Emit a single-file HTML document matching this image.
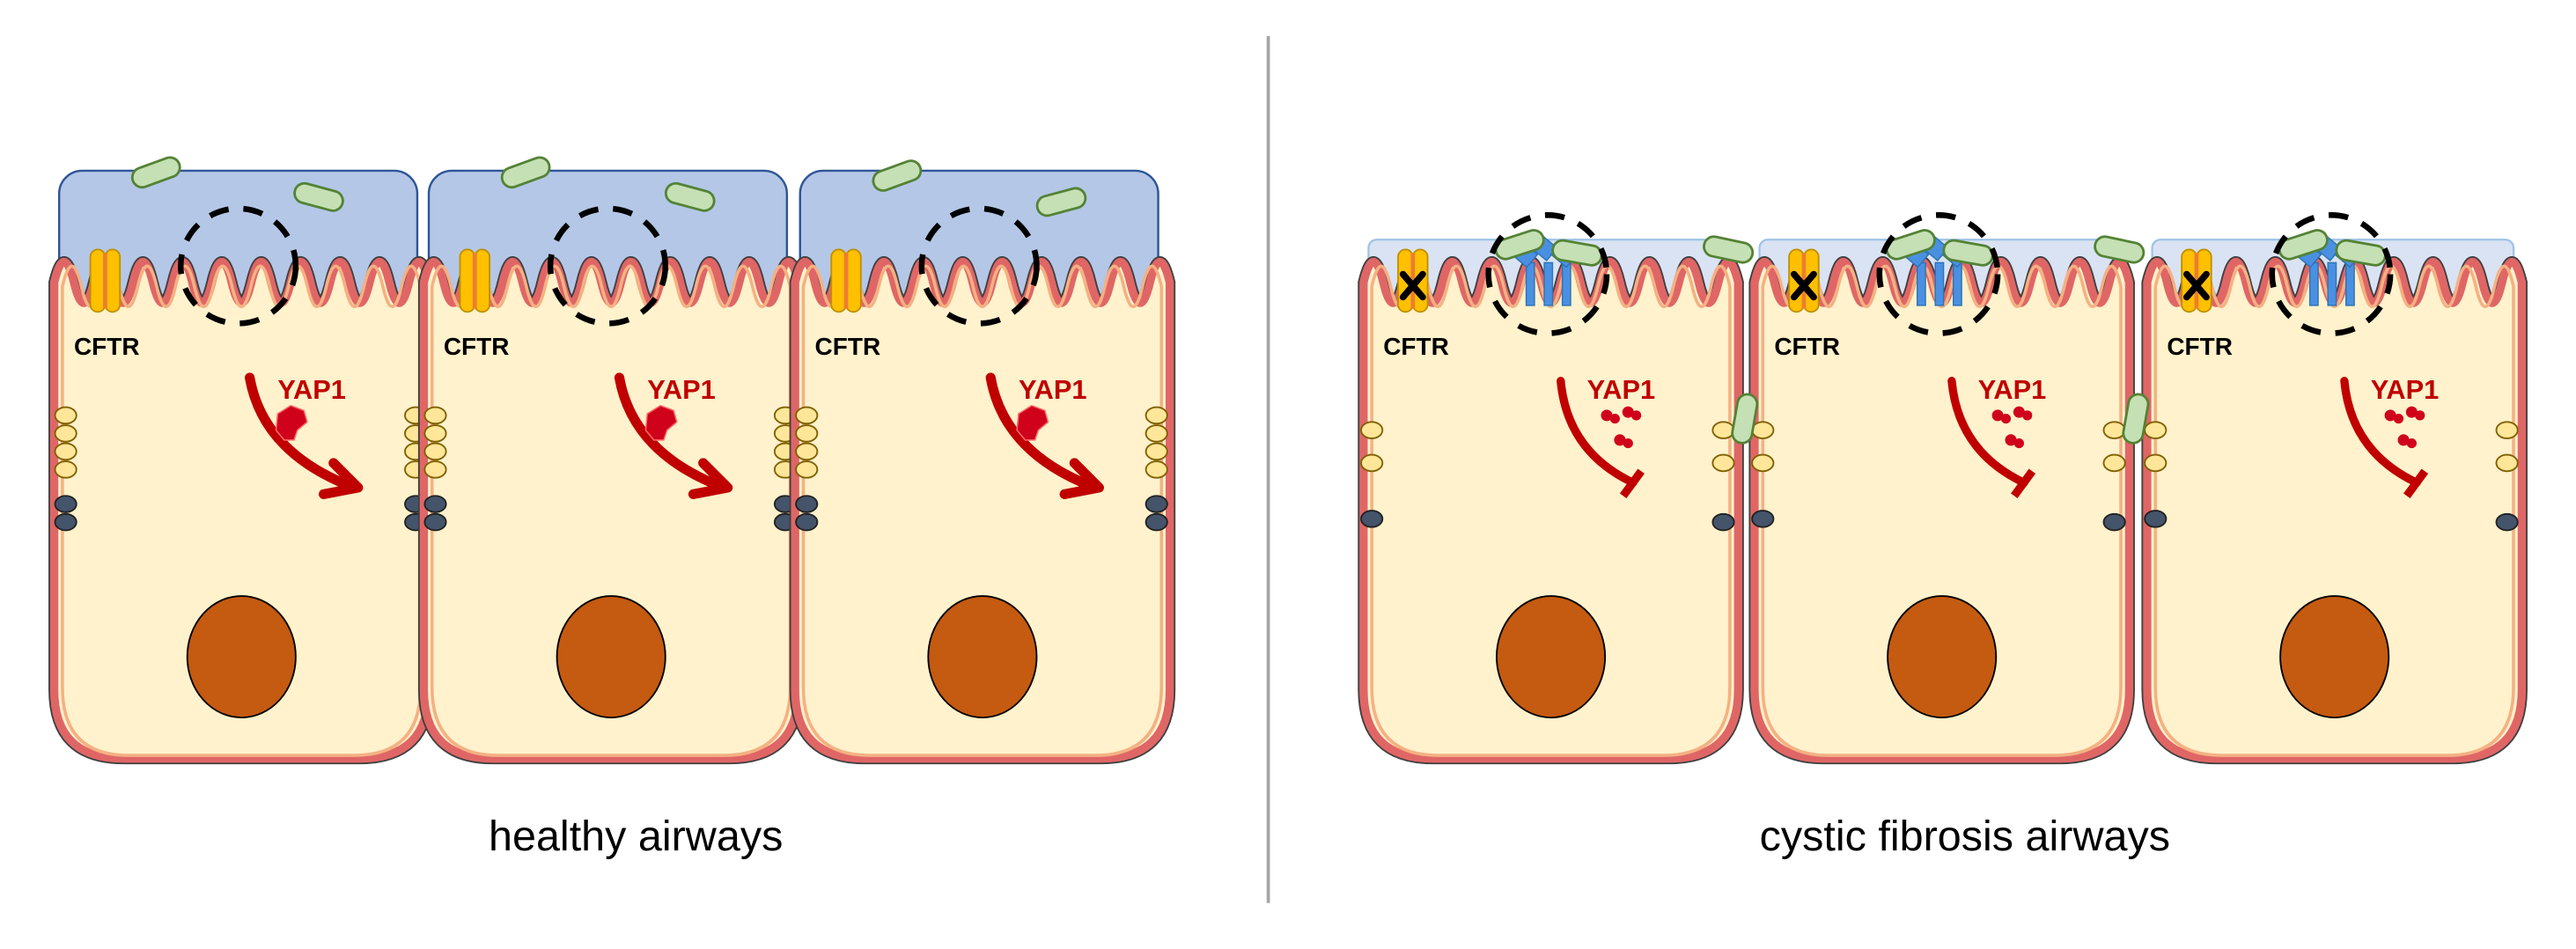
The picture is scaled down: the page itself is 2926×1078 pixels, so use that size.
<!DOCTYPE html>
<html><head><meta charset="utf-8"><style>
html,body{margin:0;padding:0;background:#fff;width:2926px;height:1078px;overflow:hidden}
svg{display:block}
text{font-family:"Liberation Sans",sans-serif}
</style></head><body>
<svg width="2926" height="1078" viewBox="0 0 1568 578" preserveAspectRatio="none" xmlns="http://www.w3.org/2000/svg">
<defs>
<path id="body" d="M0,172 Q6,147 12,172 T24,172 T36,172 T48,172 T60,172 T72,172 T84,172 T96,172 T108,172 T120,172 T132,172 T144,172 T156,172 T168,172 T180,172 T192,172 T204,172 T216,172 T228,172 L228,420 Q228,462 186,462 L42,462 Q0,462 0,420 Z"/>
<g id="cell">
<use href="#body" fill="#fff2cc" stroke="#404040" stroke-width="7"/>
<use href="#body" fill="#fff2cc" stroke="#e06666" stroke-width="5"/>
<use href="#body" fill="none" stroke="#f4b183" stroke-width="2" transform="translate(5,5) scale(0.956,0.985)"/>
<ellipse cx="114" cy="400" rx="33" ry="37" fill="#c55a11" stroke="#000" stroke-width="1"/>
<text x="12" y="216" font-size="15" font-weight="bold" fill="#000">CFTR</text>
<text x="136" y="243" font-size="16.5" font-weight="bold" fill="#c00000">YAP1</text>
</g>
<g id="cftr">
<rect x="-9" y="152" width="9" height="38" rx="4.5" fill="#ffc000" stroke="#bf9000" stroke-width="1"/>
<rect x="0" y="152" width="9" height="38" rx="4.5" fill="#ffc000" stroke="#bf9000" stroke-width="1"/>
<line x1="0" y1="154" x2="0" y2="188" stroke="#ed7d31" stroke-width="2.5"/>
</g>
<ellipse id="yj" rx="6.5" ry="5" fill="#ffe699" stroke="#7f6000" stroke-width="1"/>
<ellipse id="dj" rx="6.5" ry="5" fill="#44546a" stroke="#222" stroke-width="1"/>
<rect id="bac" x="-15" y="-6" width="30" height="12" rx="6" fill="#c5e0b4" stroke="#548235" stroke-width="1.5"/>
<g id="hcell">
<rect x="3" y="104" width="218" height="80" rx="14" fill="#b4c7e7" stroke="#2f5597" stroke-width="1.3"/>
<use href="#cell"/>
<use href="#cftr" x="31"/>
<circle cx="112" cy="162" r="35" fill="none" stroke="#000" stroke-width="3.5" stroke-dasharray="12 9"/>
<path d="M119,230 Q127,275 180,296" fill="none" stroke="#c00000" stroke-width="6" stroke-linecap="round"/>
<path d="M170,282 L185,297 L164,301" fill="none" stroke="#c00000" stroke-width="6" stroke-linecap="round" stroke-linejoin="round"/>
<path d="M136,252 L144,247 L152,250 L154,257 L148,262 L146,268 L140,268 L135,262 Z" fill="#d0021b" stroke="#ff6b6b" stroke-width="0.8"/>
<use href="#yj" x="7" y="253"/><use href="#yj" x="7" y="264"/><use href="#yj" x="7" y="275"/><use href="#yj" x="7" y="286"/>
<use href="#dj" x="7" y="307"/><use href="#dj" x="7" y="318"/>
<use href="#yj" x="220" y="253"/><use href="#yj" x="220" y="264"/><use href="#yj" x="220" y="275"/><use href="#yj" x="220" y="286"/>
<use href="#dj" x="220" y="307"/><use href="#dj" x="220" y="318"/>
</g>
<g id="ccell">
<rect x="3" y="146" width="220" height="40" rx="5" fill="#dae3f3" stroke="#9dc3e6" stroke-width="1.2"/>
<use href="#cell"/>
<use href="#cftr" x="30"/>
<path d="M24,167 L36,181 M36,167 L24,181" stroke="#000" stroke-width="4" stroke-linecap="round"/>
<g fill="#4a90e2" stroke="#2e75b6" stroke-width="0.8">
<rect x="99" y="160" width="5" height="26"/><rect x="110" y="160" width="5" height="26"/><rect x="121" y="160" width="5" height="26"/>
<rect x="92" y="150" width="12" height="10" transform="rotate(40 98 155)"/>
<rect x="104" y="146" width="12" height="10" transform="rotate(40 110 151)"/>
<rect x="116" y="150" width="12" height="10" transform="rotate(40 122 155)"/>
</g>
<use href="#bac" transform="translate(95,149) rotate(-18)"/>
<use href="#bac" transform="translate(130,154) rotate(10)"/>
<circle cx="112" cy="167" r="36" fill="none" stroke="#000" stroke-width="3.5" stroke-dasharray="12 9"/>
<path d="M120,232 Q124,275 164,294" fill="none" stroke="#c00000" stroke-width="5" stroke-linecap="round"/>
<path d="M158,302 L169,287" stroke="#c00000" stroke-width="5"/>
<g fill="#d0021b"><circle cx="148" cy="253" r="3.5"/><circle cx="153" cy="255" r="3"/><circle cx="161" cy="251" r="3.5"/><circle cx="166" cy="253" r="3"/><circle cx="156" cy="268" r="3.5"/><circle cx="161" cy="270" r="3"/></g>
<use href="#yj" x="5" y="262"/><use href="#yj" x="5" y="282"/><use href="#dj" x="5" y="316"/>
<use href="#yj" x="219" y="262"/><use href="#yj" x="219" y="282"/><use href="#dj" x="219" y="318"/>
</g>
</defs>
<use href="#hcell" x="33"/>
<use href="#hcell" x="258"/>
<use href="#hcell" x="484"/>
<use href="#bac" transform="translate(95,105) rotate(-20)"/>
<use href="#bac" transform="translate(194,120) rotate(15)"/>
<use href="#bac" transform="translate(320,105) rotate(-20)"/>
<use href="#bac" transform="translate(420,120) rotate(15)"/>
<use href="#bac" transform="translate(546,107) rotate(-20)"/>
<use href="#bac" transform="translate(646,123) rotate(-15)"/>
<line x1="772" y1="22" x2="772" y2="550" stroke="#a6a6a6" stroke-width="2"/>
<use href="#ccell" x="830"/>
<use href="#ccell" x="1068"/>
<use href="#ccell" x="1307"/>
<use href="#bac" transform="translate(1052,152) rotate(12)"/>
<use href="#bac" transform="translate(1290,152) rotate(12)"/>
<use href="#bac" transform="translate(1062,255) rotate(-80)"/>
<use href="#bac" transform="translate(1300,255) rotate(-80)"/>
<text x="387" y="518" font-size="26" text-anchor="middle" fill="#000">healthy airways</text>
<text x="1196" y="518" font-size="26" text-anchor="middle" fill="#000">cystic fibrosis airways</text>
</svg>
</body></html>
